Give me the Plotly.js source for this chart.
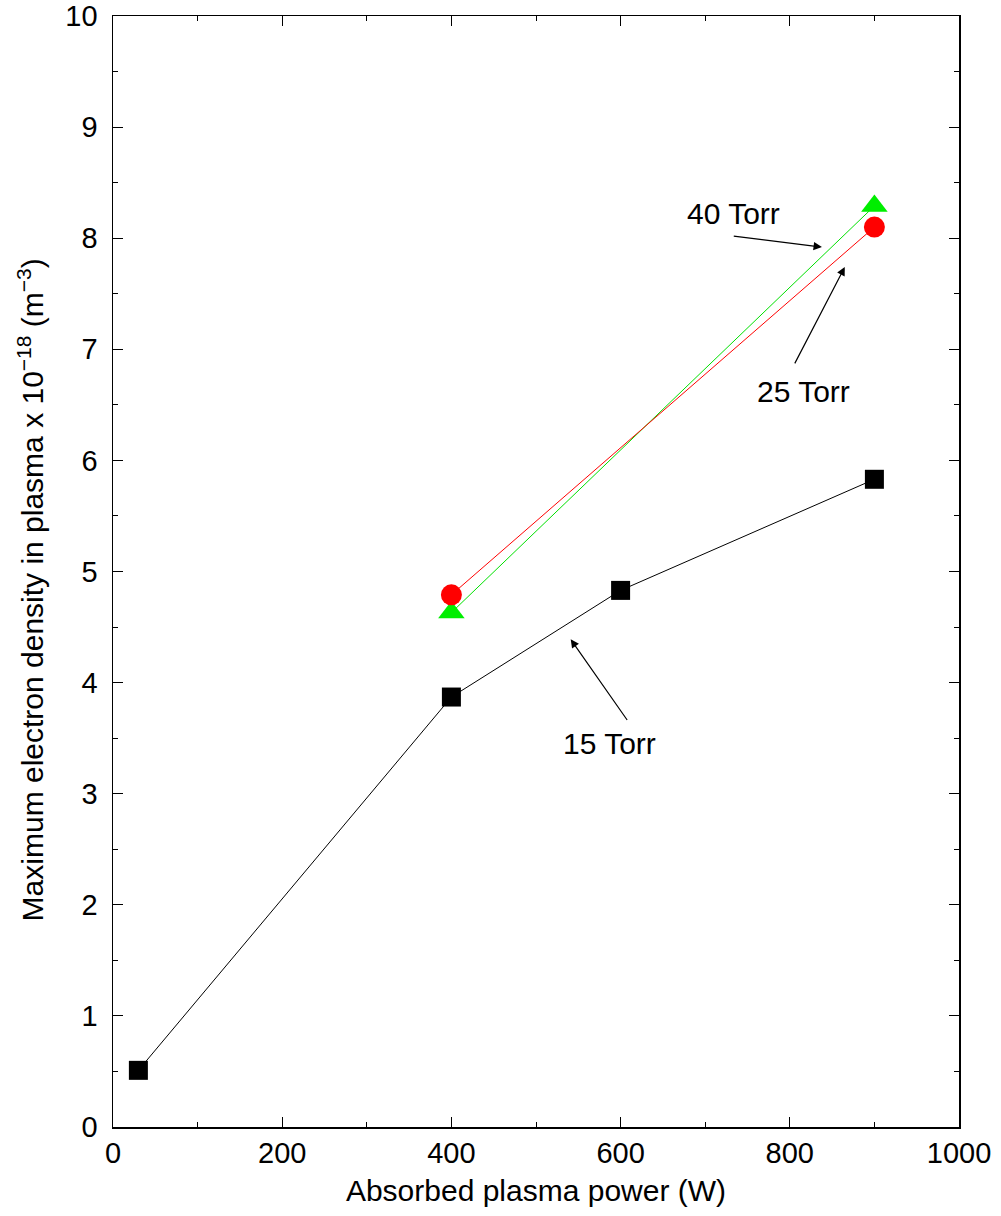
<!DOCTYPE html>
<html>
<head>
<meta charset="utf-8">
<script src="https://cdn.plot.ly/plotly-3.0.1.min.js"></script>
<style>body{margin:0;background:#fff}#plot{width:1001px;height:1216px}</style>
</head>
<body>
<div id="plot"></div>
<script>
// Data
const power15 = [30, 400, 600, 900];
const dens15 = [0.51, 3.87, 4.83, 5.83];
const power25 = [400, 900];
const dens25 = [4.79, 8.10];
const power40 = [400, 900];
const dens40 = [4.63, 8.29];

const labels = ['40 Torr', '25 Torr', '15 Torr'];
const labelPos = [[733, 8.22], [816, 6.62], [587, 3.45]];
const arrowTail = [[732, 8.02], [805, 6.86], [609, 3.65]];
const arrowHead = [[838, 7.92], [865, 7.74], [541, 4.39]];

const xTitle = 'Absorbed plasma power (W)';
const yTitle = 'Maximum electron density in plasma x 10<sup>\u221218</sup> (m<sup>\u22123</sup>)';

const FONT = 'Liberation Sans, Arial, sans-serif';

const traces = [
  {x: power15, y: dens15, mode: 'lines+markers', name: '15 Torr',
   line: {color: '#000000', width: 1},
   marker: {symbol: 'square', size: 19, color: '#000000'}},
  {x: power40, y: dens40, mode: 'lines+markers', name: '40 Torr',
   line: {color: '#00e000', width: 1},
   marker: {symbol: 'triangle-up', size: 23, color: '#00ee00'}},
  {x: power25, y: dens25, mode: 'lines+markers', name: '25 Torr',
   line: {color: '#ff0000', width: 1},
   marker: {symbol: 'circle', size: 21, color: '#ff0000'}}
];

const annotations = [];
labels.forEach((t, i) => {
  annotations.push({x: labelPos[i][0], y: labelPos[i][1], xref: 'x', yref: 'y',
    text: t, showarrow: false, font: {family: FONT, size: 30, color: '#000'}});
  annotations.push({x: arrowHead[i][0], y: arrowHead[i][1], xref: 'x', yref: 'y',
    ax: arrowTail[i][0], ay: arrowTail[i][1], axref: 'x', ayref: 'y',
    text: '', showarrow: true, arrowhead: 2, arrowsize: 1.4, arrowwidth: 1.2,
    arrowcolor: '#000', standoff: 0, startstandoff: 0});
});
// y-axis title as rotated annotation for exact placement
annotations.push({x: 0, y: 0.483, xref: 'paper', yref: 'paper', xanchor: 'center', yanchor: 'middle',
  xshift: -82, text: yTitle, textangle: -90, showarrow: false,
  font: {family: FONT, size: 30, color: '#000'}});

const axisCommon = {
  showline: true, linecolor: '#000', linewidth: 1.5, mirror: 'allticks',
  ticks: 'inside', ticklen: 10, tickwidth: 1, tickcolor: '#000',
  showgrid: false, zeroline: false,
  tickfont: {family: FONT, size: 29, color: '#000'}
};

const layout = {
  width: 1001, height: 1216,
  margin: {l: 113, r: 42, t: 16, b: 89},
  paper_bgcolor: '#fff', plot_bgcolor: '#fff',
  showlegend: false,
  font: {family: FONT, color: '#000'},
  xaxis: Object.assign({}, axisCommon, {
    range: [0, 1000], dtick: 200, tick0: 0,
    minor: {dtick: 100, ticks: 'inside', ticklen: 5, tickcolor: '#000'},
    title: {text: xTitle, font: {family: FONT, size: 30}, standoff: 11}
  }),
  yaxis: Object.assign({}, axisCommon, {
    range: [0, 10], dtick: 1, tick0: 0, ticksuffix: '\u00a0',
    minor: {dtick: 0.5, ticks: 'inside', ticklen: 5, tickcolor: '#000'}
  }),
  annotations: annotations
};

Plotly.newPlot('plot', traces, layout, {displayModeBar: false, staticPlot: true});
</script>
</body>
</html>
